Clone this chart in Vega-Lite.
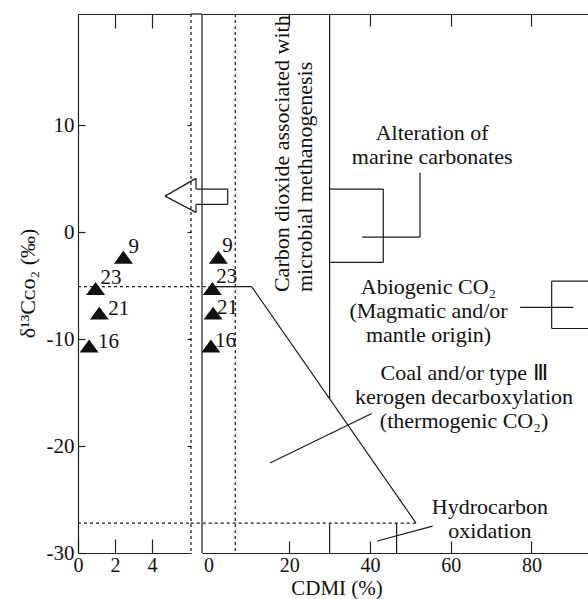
{
  "$schema": "https://vega.github.io/schema/vega-lite/v6.json",
  "width": 510,
  "height": 539,
  "autosize": "none",
  "padding": {"left": 78, "top": 14, "right": 0, "bottom": 46},
  "background": "white",
  "config": {
    "view": {"stroke": null},
    "font": "Liberation Serif, Times New Roman, serif",
    "axis": {
      "labelFont": "Liberation Serif, Times New Roman, serif", "labelFontSize": 21, "labelColor": "#111",
      "titleFont": "Liberation Serif, Times New Roman, serif", "titleFontSize": 22, "titleFontWeight": "normal", "titleColor": "#111",
      "domainColor": "#222", "tickColor": "#222", "domainWidth": 1.2, "tickWidth": 1.2,
      "grid": false, "labelFlush": false, "labelOverlap": false, "labelBound": false
    },
    "text": {"font": "Liberation Serif, Times New Roman, serif", "fontSize": 22, "color": "#111"},
    "rule": {"color": "#1a1a1a", "strokeWidth": 1.2}
  },
  "datasets": {
    "pts": [
      {"sample": "9", "cdmi": 2.45, "d13c": -2.34},
      {"sample": "23", "cdmi": 0.95, "d13c": -5.26},
      {"sample": "21", "cdmi": 1.15, "d13c": -7.57},
      {"sample": "16", "cdmi": 0.6, "d13c": -10.64}
    ],
    "leftDotted": [
      {"x": 6.1, "y": 20.4, "x2": 6.1, "y2": -30},
      {"x": 0, "y": -5.1, "x2": 6.1, "y2": -5.1},
      {"x": 0, "y": -27.2, "x2": 6.1, "y2": -27.2}
    ],
    "rightDotted": [
      {"x": 6.65, "y": 20.4, "x2": 6.65, "y2": -30},
      {"x": -4.4, "y": -5.1, "x2": 6.65, "y2": -5.1},
      {"x": -4.4, "y": -27.2, "x2": 51.4, "y2": -27.2}
    ],
    "rightSolid": [
      {"x": -1.6, "y": 20.4, "x2": -1.6, "y2": -30},
      {"x": -4.4, "y": 20.4, "x2": -1.6, "y2": 20.4},
      {"x": 30, "y": 20.4, "x2": 30, "y2": -15.58},
      {"x": 30, "y": -27.2, "x2": 30, "y2": -30},
      {"x": 46.6, "y": -27.2, "x2": 46.6, "y2": -30},
      {"x": 10.7, "y": -5.1, "x2": 51.4, "y2": -27.2},
      {"x": 1, "y": -5.1, "x2": 10.7, "y2": -5.1},
      {"x": 38.1, "y": -0.46, "x2": 52.4, "y2": -0.46},
      {"x": 52.4, "y": -0.46, "x2": 52.4, "y2": 5.59},
      {"x": 30, "y": 4.03, "x2": 43.3, "y2": 4.03},
      {"x": 43.3, "y": 4.03, "x2": 43.3, "y2": -2.83},
      {"x": 43.3, "y": -2.83, "x2": 30, "y2": -2.83},
      {"x": 95, "y": -4.58, "x2": 85, "y2": -4.58},
      {"x": 85, "y": -4.58, "x2": 85, "y2": -9.01},
      {"x": 85, "y": -9.01, "x2": 95, "y2": -9.01},
      {"x": 77.2, "y": -7.04, "x2": 90.35, "y2": -7.04},
      {"x": 15.24, "y": -21.58, "x2": 40.43, "y2": -16.96},
      {"x": 41.8, "y": -28.88, "x2": 55.53, "y2": -27.48},
      {"x": -10.76, "y": 3.37, "x2": -3.09, "y2": 5.03},
      {"x": -3.09, "y": 5.03, "x2": -3.09, "y2": 4.03},
      {"x": -3.09, "y": 4.03, "x2": 4.76, "y2": 4.03},
      {"x": 4.76, "y": 4.03, "x2": 4.76, "y2": 2.59},
      {"x": 4.76, "y": 2.59, "x2": -3.09, "y2": 2.59},
      {"x": -3.09, "y": 2.59, "x2": -3.09, "y2": 1.85},
      {"x": -3.09, "y": 1.85, "x2": -10.76, "y2": 3.37}
    ],
    "notes": [
      {"x": 55.4, "y": 9.24, "t": "Alteration of\nmarine carbonates"},
      {"x": 54.5, "y": -5.1, "t": "Abiogenic CO₂\n(Magmatic and/or\nmantle origin)"},
      {"x": 63.3, "y": -13.17, "t": "Coal and/or type Ⅲ\nkerogen decarboxylation\n(thermogenic CO₂)"},
      {"x": 69.7, "y": -25.67, "t": "Hydrocarbon\noxidation"}
    ],
    "vnotes": [
      {"x": 18.1, "y": -5.6, "t": "Carbon dioxide associated with"},
      {"x": 23.9, "y": -5.6, "t": "microbial methanogenesis"}
    ]
  },
  "layer": [
    {
      "data": {"name": "pts"},
      "mark": {"type": "point", "shape": "M0,-0.68L1,0.68L-1,0.68Z", "filled": true, "size": 361, "color": "#111", "opacity": 1},
      "encoding": {
        "x": {"field": "cdmi", "type": "quantitative",
              "scale": {"domain": [0, 6.1], "range": [0, 113], "nice": false, "zero": false},
              "axis": {"orient": "bottom", "values": [0, 2, 4], "tickSize": -14, "labelPadding": 16.5, "labelFontSize": 20, "title": null}},
        "y": {"field": "d13c", "type": "quantitative",
              "scale": {"domain": [-30, 20.4], "nice": false, "zero": false},
              "axis": {"orient": "left", "values": [-30, -20, -10, 0, 10], "tickSize": -7, "labelPadding": 11,
                       "labelExpr": "'' + datum.value",
                       "title": "δ¹³Cᴄᴏ₂ (‰)", "titleX": -51, "titleY": 269, "titleAngle": 270,
                       "titleAlign": "center", "titleBaseline": "middle"}}
      }
    },
    {
      "data": {"name": "pts"},
      "transform": [{"filter": "datum.sample == '9' || datum.sample == '23'"}],
      "mark": {"type": "text", "align": "left", "baseline": "middle", "dx": 5, "dy": -10, "fontSize": 21, "font": "Liberation Serif, Times New Roman, serif"},
      "encoding": {
        "x": {"field": "cdmi", "type": "quantitative", "scale": {"domain": [0, 6.1], "range": [0, 113], "nice": false, "zero": false}, "axis": null},
        "y": {"field": "d13c", "type": "quantitative", "scale": {"domain": [-30, 20.4], "nice": false, "zero": false}, "axis": null},
        "text": {"field": "sample"}
      }
    },
    {
      "data": {"name": "pts"},
      "transform": [{"filter": "datum.sample == '21' || datum.sample == '16'"}],
      "mark": {"type": "text", "align": "left", "baseline": "middle", "dx": 9, "dy": -4, "fontSize": 21, "font": "Liberation Serif, Times New Roman, serif"},
      "encoding": {
        "x": {"field": "cdmi", "type": "quantitative", "scale": {"domain": [0, 6.1], "range": [0, 113], "nice": false, "zero": false}, "axis": null},
        "y": {"field": "d13c", "type": "quantitative", "scale": {"domain": [-30, 20.4], "nice": false, "zero": false}, "axis": null},
        "text": {"field": "sample"}
      }
    },
    {
      "data": {"name": "leftDotted"},
      "mark": {"type": "rule", "strokeDash": [3, 3]},
      "encoding": {
        "x": {"field": "x", "type": "quantitative", "scale": {"domain": [0, 6.1], "range": [0, 113], "nice": false, "zero": false},
              "axis": {"orient": "top", "values": [2, 4], "labels": false, "tickSize": -14, "title": null}},
        "x2": {"field": "x2"},
        "y": {"field": "y", "type": "quantitative", "scale": {"domain": [-30, 20.4], "nice": false, "zero": false},
              "axis": {"orient": "right", "offset": -397, "values": [-20, -10, 0, 10], "domain": false, "labels": false, "tickSize": -4, "title": null}},
        "y2": {"field": "y2"}
      }
    },
    {
      "data": {"name": "rightSolid"},
      "mark": {"type": "rule"},
      "encoding": {
        "x": {"field": "x", "type": "quantitative", "scale": {"domain": [-1.6, 94], "range": [124, 510], "nice": false, "zero": false},
              "axis": {"orient": "top", "values": [20, 40, 60, 80], "labels": false, "tickSize": -12, "title": null}},
        "x2": {"field": "x2"},
        "y": {"field": "y", "type": "quantitative", "scale": {"domain": [-30, 20.4], "nice": false, "zero": false}, "axis": null},
        "y2": {"field": "y2"}
      }
    },
    {
      "data": {"name": "rightDotted"},
      "mark": {"type": "rule", "strokeDash": [3, 3]},
      "encoding": {
        "x": {"field": "x", "type": "quantitative", "scale": {"domain": [-1.6, 94], "range": [124, 510], "nice": false, "zero": false}, "axis": null},
        "x2": {"field": "x2"},
        "y": {"field": "y", "type": "quantitative", "scale": {"domain": [-30, 20.4], "nice": false, "zero": false}, "axis": null},
        "y2": {"field": "y2"}
      }
    },
    {
      "data": {"name": "pts"},
      "mark": {"type": "point", "shape": "M0,-0.68L1,0.68L-1,0.68Z", "filled": true, "size": 361, "color": "#111", "opacity": 1},
      "encoding": {
        "x": {"field": "cdmi", "type": "quantitative",
              "scale": {"domain": [-1.6, 94], "range": [124, 510], "nice": false, "zero": false},
              "axis": {"orient": "bottom", "values": [0, 20, 40, 60, 80], "tickSize": -12, "labelPadding": 14.5, "labelFontSize": 20,
                       "tickOpacity": {"condition": {"test": "datum.value === 0", "value": 0}, "value": 1},
                       "title": "CDMI (%)", "titleFontSize": 21, "titleX": 258.5, "titleY": 41.3, "titleAlign": "center", "titleBaseline": "alphabetic"}},
        "y": {"field": "d13c", "type": "quantitative", "scale": {"domain": [-30, 20.4], "nice": false, "zero": false}, "axis": null}
      }
    },
    {
      "data": {"name": "pts"},
      "transform": [{"filter": "datum.sample == '9' || datum.sample == '23'"}],
      "mark": {"type": "text", "align": "left", "baseline": "middle", "dx": 4, "dy": -11, "fontSize": 21, "font": "Liberation Serif, Times New Roman, serif"},
      "encoding": {
        "x": {"field": "cdmi", "type": "quantitative", "scale": {"domain": [-1.6, 94], "range": [124, 510], "nice": false, "zero": false}, "axis": null},
        "y": {"field": "d13c", "type": "quantitative", "scale": {"domain": [-30, 20.4], "nice": false, "zero": false}, "axis": null},
        "text": {"field": "sample"}
      }
    },
    {
      "data": {"name": "pts"},
      "transform": [{"filter": "datum.sample == '21' || datum.sample == '16'"}],
      "mark": {"type": "text", "align": "left", "baseline": "middle", "dx": 4, "dy": -5, "fontSize": 21, "font": "Liberation Serif, Times New Roman, serif"},
      "encoding": {
        "x": {"field": "cdmi", "type": "quantitative", "scale": {"domain": [-1.6, 94], "range": [124, 510], "nice": false, "zero": false}, "axis": null},
        "y": {"field": "d13c", "type": "quantitative", "scale": {"domain": [-30, 20.4], "nice": false, "zero": false}, "axis": null},
        "text": {"field": "sample"}
      }
    },
    {
      "data": {"name": "notes"},
      "mark": {"type": "text", "align": "center", "baseline": "middle", "lineBreak": "\n", "lineHeight": 24, "font": "Liberation Serif, Times New Roman, serif"},
      "encoding": {
        "x": {"field": "x", "type": "quantitative", "scale": {"domain": [-1.6, 94], "range": [124, 510], "nice": false, "zero": false}, "axis": null},
        "y": {"field": "y", "type": "quantitative", "scale": {"domain": [-30, 20.4], "nice": false, "zero": false}, "axis": null},
        "text": {"field": "t"}
      }
    },
    {
      "data": {"name": "vnotes"},
      "mark": {"type": "text", "align": "left", "baseline": "middle", "angle": 270, "font": "Liberation Serif, Times New Roman, serif"},
      "encoding": {
        "x": {"field": "x", "type": "quantitative", "scale": {"domain": [-1.6, 94], "range": [124, 510], "nice": false, "zero": false}, "axis": null},
        "y": {"field": "y", "type": "quantitative", "scale": {"domain": [-30, 20.4], "nice": false, "zero": false}, "axis": null},
        "text": {"field": "t"}
      }
    }
  ],
  "resolve": {"scale": {"x": "independent"}, "axis": {"x": "independent", "y": "independent"}}
}
